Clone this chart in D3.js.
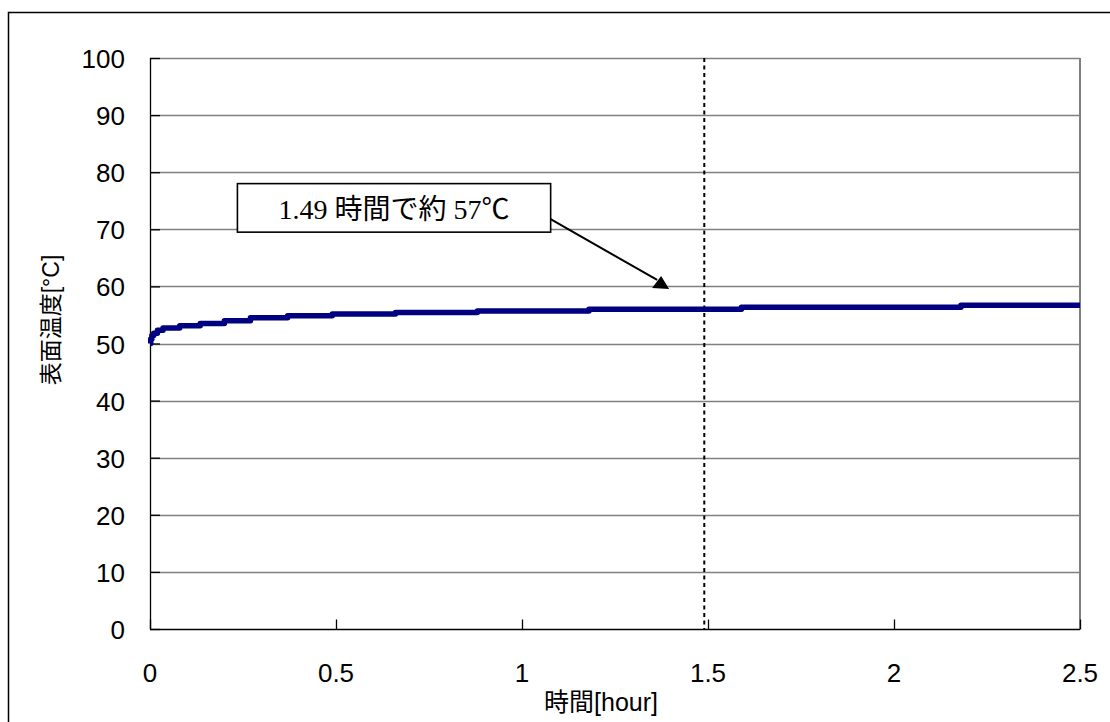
<!DOCTYPE html>
<html><head><meta charset="utf-8">
<script src="https://cdn.jsdelivr.net/npm/d3@7"></script>
<style>
html,body{margin:0;padding:0;background:#fff;}
svg{display:block;}
</style></head>
<body>
<svg id="chart" width="1110" height="722"></svg>
<script>
// ---- data ----
const timeHours = [0, 0.002, 0.005, 0.01, 0.02, 0.035, 0.08, 0.135, 0.2, 0.27, 0.37, 0.49, 0.66, 0.88, 1.18, 1.59, 2.18, 2.5];
const surfaceTemp = [50.0, 50.8, 51.4, 51.8, 52.3, 52.7, 53.1, 53.5, 54.0, 54.5, 54.85, 55.15, 55.45, 55.7, 56.0, 56.35, 56.7, 56.7];
const xTicks = [0, 0.5, 1, 1.5, 2, 2.5];
const xTickLabels = ["0", "0.5", "1", "1.5", "2", "2.5"];
const yTicks = [0, 10, 20, 30, 40, 50, 60, 70, 80, 90, 100];
const markerTime = [1.49];
const annotationText = ["1.49 時間で約 57℃"];
const xTitle = "時間[hour]";
const yTitle = "表面温度[°C]";

// ---- layout ----
const svg = d3.select("#chart");
const L = 150, R = 1080, T = 58, B = 629;
const x = d3.scaleLinear().domain([0, 2.5]).range([L, R]);
const y = d3.scaleLinear().domain([0, 100]).range([B, T]);
const tickFont = "'Liberation Sans', Arial, sans-serif";

// outer border
svg.append("rect").attr("x", 8.5).attr("y", 12.5).attr("width", 1110).attr("height", 720)
  .attr("fill", "none").attr("stroke", "#000").attr("stroke-width", 1.5);

// gridlines
svg.append("g").selectAll("line").data(yTicks.filter(d => d > 0)).join("line")
  .attr("x1", L).attr("x2", R).attr("y1", d => Math.round(y(d)) + 0.5).attr("y2", d => Math.round(y(d)) + 0.5)
  .attr("stroke", "#808080").attr("stroke-width", 1.3);
// right border of plot area
svg.append("line").attr("x1", R).attr("x2", R).attr("y1", T).attr("y2", B)
  .attr("stroke", "#808080").attr("stroke-width", 2);

// axes
const yAxis = d3.axisRight(y).tickValues(yTicks).tickSize(10).tickFormat("");
const gy = svg.append("g").attr("transform", `translate(${L},0)`).call(yAxis);
gy.selectAll("path,line").attr("stroke", "#000").attr("stroke-width", 1.3);
gy.select(".domain").attr("d", `M0.5,${T}V${B}`);

const xAxis = d3.axisTop(x).tickValues(xTicks).tickSize(10).tickFormat("");
const gx = svg.append("g").attr("transform", `translate(0,${B + 0.5})`).call(xAxis);
gx.selectAll("path,line").attr("stroke", "#000").attr("stroke-width", 1.3);
gx.select(".domain").attr("d", `M${L},0H${R}`);

// tick labels
svg.append("g").selectAll("text").data(yTicks).join("text")
  .attr("x", 125).attr("y", d => y(d) + 10)
  .attr("text-anchor", "end").attr("font-family", tickFont).attr("font-size", 26)
  .attr("fill", "#000").text(d => d);
svg.append("g").selectAll("text").data(xTicks).join("text")
  .attr("x", d => x(d)).attr("y", 682)
  .attr("text-anchor", "middle").attr("font-family", tickFont).attr("font-size", 26)
  .attr("fill", "#000").text((d, i) => xTickLabels[i]);

// axis titles
svg.append("text").attr("x", 601).attr("y", 711).attr("text-anchor", "middle")
  .attr("font-family", "'Liberation Sans', 'Noto Sans CJK JP', sans-serif").attr("font-size", 25)
  .text(xTitle);
svg.append("text").attr("transform", "translate(59,320) rotate(-90)").attr("text-anchor", "middle")
  .attr("font-family", "'Liberation Sans', 'Noto Sans CJK JP', sans-serif").attr("font-size", 23)
  .text(yTitle);

// dotted vertical marker
svg.append("g").selectAll("line").data(markerTime).join("line")
  .attr("x1", d => x(d)).attr("x2", d => x(d)).attr("y1", T).attr("y2", B)
  .attr("stroke", "#000").attr("stroke-width", 2).attr("stroke-dasharray", "4,3.5");

// data line
const pts = timeHours.map((t, i) => [t, surfaceTemp[i]]);
const line = d3.line().x(d => x(d[0])).y(d => y(d[1])).curve(d3.curveStepAfter);
svg.append("path").datum(pts).attr("d", line)
  .attr("fill", "none").attr("stroke", "#000080").attr("stroke-width", 5.5)
  .attr("stroke-linejoin", "round").attr("stroke-linecap", "butt");

// annotation (positions in data units)
const ann = {x0: 0.235, x1: 1.077, yTop: 78.0, yBot: 69.5, tipX: 1.374, tipY: 60.6};
const bx0 = x(ann.x0), bx1 = x(ann.x1), by0 = y(ann.yTop), by1 = y(ann.yBot);
const sx = bx1, sy = by1 - 13;
const tx = x(ann.tipX), ty = y(ann.tipY);
svg.append("line").attr("x1", sx).attr("y1", sy).attr("x2", tx - 4).attr("y2", ty - 3)
  .attr("stroke", "#000").attr("stroke-width", 2);
// arrow head
svg.append("path")
  .attr("d", `M${tx},${ty - 7}L${tx - 9},${ty + 5}L${tx + 8},${ty + 6}Z`)
  .attr("fill", "#000");
svg.append("rect").attr("x", bx0).attr("y", by0).attr("width", bx1 - bx0).attr("height", by1 - by0)
  .attr("fill", "#fff").attr("stroke", "#000").attr("stroke-width", 1.6);
svg.append("text").attr("x", (bx0 + bx1) / 2).attr("y", by1 - 13)
  .attr("text-anchor", "middle")
  .attr("font-family", "'Liberation Serif', 'Times New Roman', 'Noto Sans CJK JP', serif")
  .attr("font-size", 28).attr("fill", "#000")
  .text(annotationText[0]);
</script>
</body></html>
